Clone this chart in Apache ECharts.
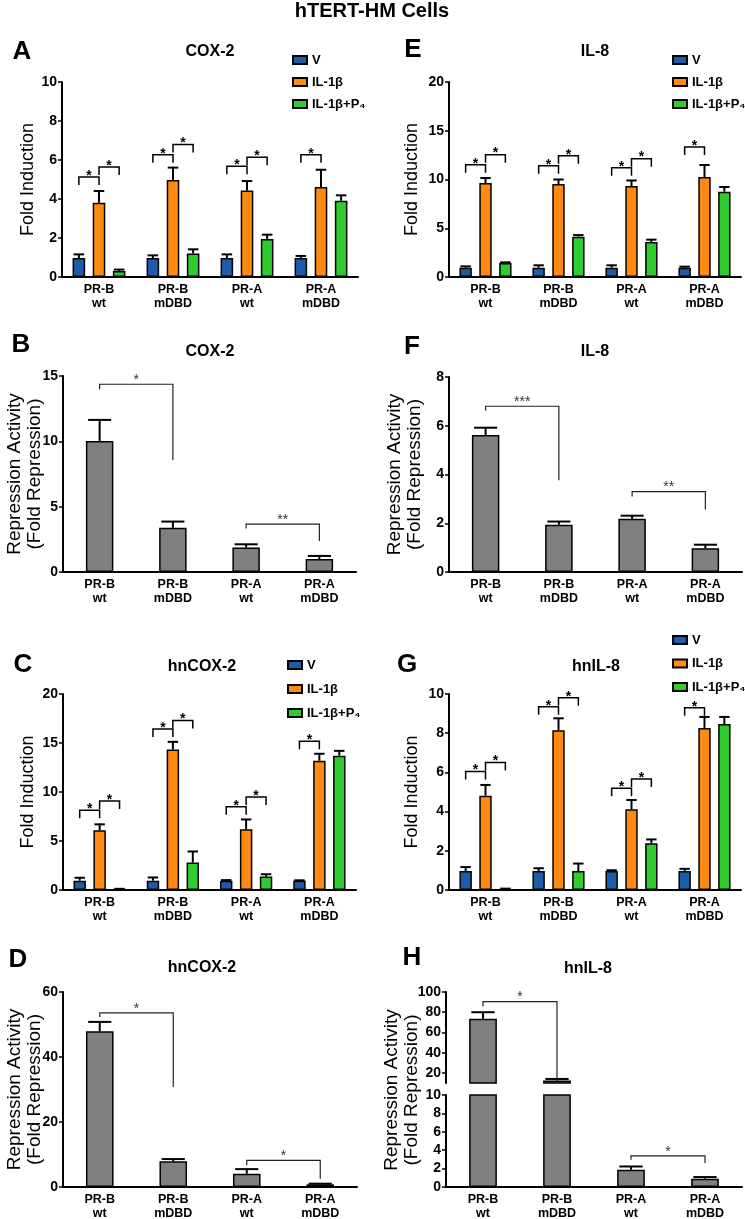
<!DOCTYPE html>
<html><head><meta charset="utf-8">
<script src="https://cdn.jsdelivr.net/npm/echarts@6/dist/echarts.min.js"></script>
<style>html,body{margin:0;padding:0;background:#fff}#c{width:745px;height:1219px}</style>
</head><body><div id="c"></div><script>
// ---------- data ----------
const categories = ['PR-B\nwt', 'PR-B\nmDBD', 'PR-A\nwt', 'PR-A\nmDBD'];
const treatments = ['V', 'IL-1β', 'IL-1β+P₄'];

// A: COX-2 fold induction (mean, SEM)
const coxV = [0.97, 0.97, 0.97, 0.97];   const coxVSem = [0.19, 0.14, 0.19, 0.11];
const coxIL = [3.81, 4.97, 4.44, 4.62];  const coxILSem = [0.60, 0.64, 0.48, 0.88];
const coxP4 = [0.31, 1.21, 1.95, 3.91];  const coxP4Sem = [0.07, 0.21, 0.22, 0.28];
const coxSig = [[0,0,1,5.13,'*'],[0,1,2,5.64,'*'],[1,0,1,6.27,'*'],[1,1,2,6.79,'*'],[2,0,1,5.68,'*'],[2,1,2,6.14,'*'],[3,0,1,6.27,'*']];

// E: IL-8 fold induction
const il8V = [0.96, 0.96, 0.96, 0.96];   const il8VSem = [0.13, 0.24, 0.24, 0.10];
const il8IL = [9.64, 9.54, 9.33, 10.26]; const il8ILSem = [0.51, 0.46, 0.57, 1.23];
const il8P4 = [1.44, 4.14, 3.59, 8.75];  const il8P4Sem = [0.06, 0.16, 0.24, 0.48];
const il8Sig = [[0,0,1,11.52,'*'],[0,1,2,12.55,'*'],[1,0,1,11.42,'*'],[1,1,2,12.44,'*'],[2,0,1,11.21,'*'],[2,1,2,12.14,'*'],[3,0,1,13.33,'*']];

// B: COX-2 repression
const coxRep = [10.03, 3.38, 1.87, 1.0]; const coxRepSem = [1.61, 0.48, 0.25, 0.23];
const coxRepSig = [[0,1,14.37,13.99,8.57,'*'],[2,3,3.66,3.32,2.38,'**']];

// F: IL-8 repression
const il8Rep = [5.62, 1.94, 2.18, 0.97]; const il8RepSem = [0.30, 0.13, 0.13, 0.15];
const il8RepSig = [[0,1,6.80,6.63,3.76,'***'],[2,3,3.30,3.10,2.56,'**']];

// C: hnCOX-2 fold induction
const hnCoxV = [0.95, 0.95, 0.95, 0.95];  const hnCoxVSem = [0.30, 0.33, 0.06, 0.04];
const hnCoxIL = [6.1, 14.34, 6.2, 13.2];  const hnCoxILSem = [0.60, 0.78, 1.0, 0.7];
const hnCoxP4 = [0.08, 2.8, 1.37, 13.7];  const hnCoxP4Sem = [0.04, 1.13, 0.24, 0.5];
const hnCoxSig = [[0,0,1,8.14,'*'],[0,1,2,9.08,'*'],[1,0,1,16.44,'*'],[1,1,2,17.3,'*'],[2,0,1,8.5,'*'],[2,1,2,9.49,'*'],[3,0,1,15.19,'*']];

// G: hnIL-8 fold induction
const hnIl8V = [0.97, 0.97, 0.97, 0.97];  const hnIl8VSem = [0.20, 0.14, 0.04, 0.11];
const hnIl8IL = [4.81, 8.15, 4.12, 8.27]; const hnIl8ILSem = [0.55, 0.61, 0.47, 0.56];
const hnIl8P4 = [0.05, 0.97, 2.39, 8.47]; const hnIl8P4Sem = [0.02, 0.38, 0.19, 0.36];
const hnIl8Sig = [[0,0,1,6.04,'*'],[0,1,2,6.51,'*'],[1,0,1,9.35,'*'],[1,1,2,9.81,'*'],[2,0,1,5.19,'*'],[2,1,2,5.66,'*'],[3,0,1,9.3,'*']];

// D: hnCOX-2 repression
const hnCoxRep = [47.9, 7.9, 4.1, 0.82]; const hnCoxRepSem = [2.9, 0.7, 1.4, 0.2];
const hnCoxRepSig = [[0,1,53.6,52.3,30.8,'*'],[2,3,8.2,6.7,2.56,'*']];

// H: hnIL-8 repression (broken axis)
const hnIl8Rep = [73.5, 12.5, 1.87, 0.9]; const hnIl8RepSem = [6.5, 1.5, 0.36, 0.18];
const hnIl8RepSigUpper = [[0,1,90.5,85.6,15,'*']];
const hnIl8RepSigLower = [[2,3,3.39,2.96,2.6,'*']];
const hUpperTicks = [20, 40, 60, 80, 100];

// ---------- helpers ----------
const FONT = '"Liberation Sans", Arial, Helvetica, sans-serif';
const COLORS = ['#1D5CA8', '#FF8A12', '#2FCB2F'];
const GRAY = '#808080';
const GROUP_BW = 0.17, GROUP_GAP = 0.6, SINGLE_BW = 0.375;
const grids = [], xAxes = [], yAxes = [], series = [], legends = [], graphics = [];

function addAxes(box, yc, xShow) {
  const gi = grids.length;
  grids.push(Object.assign({containLabel: false, outerBoundsMode: 'none'}, box));
  xAxes.push({type: 'category', gridIndex: gi, data: categories, show: xShow !== false,
    axisLine: {onZero: false, lineStyle: {color: '#000', width: 2}},
    axisTick: {alignWithLabel: true, length: 4, lineStyle: {color: '#000', width: 1.5}},
    axisLabel: {interval: 0, fontFamily: FONT, fontSize: 12.5, fontWeight: 'bold', color: '#000', lineHeight: 13.5, margin: 6},
    splitLine: {show: false}});
  const y = {type: 'value', gridIndex: gi, min: yc.min, max: yc.max,
    axisLine: {show: true, lineStyle: {color: '#000', width: 2}},
    axisTick: {show: true, length: 4, lineStyle: {color: '#000', width: 1.5}},
    axisLabel: {fontFamily: FONT, fontSize: 14, fontWeight: 'bold', color: '#000', margin: 5},
    splitLine: {show: false}};
  if (yc.interval) y.interval = yc.interval;
  if (yc.custom) { y.axisLabel.customValues = yc.custom; y.axisTick.customValues = yc.custom; }
  if (yc.name) {
    y.name = yc.name; y.nameLocation = 'middle'; y.nameGap = yc.nameGap; y.nameMoveOverlap = false;
    y.nameTextStyle = {fontFamily: FONT, fontSize: yc.nameSize, lineHeight: yc.nameLH, color: '#000', padding: yc.namePad || 0};
  }
  yAxes.push(y);
  return gi;
}

function barSeries(gi, name, data, color, bw, gap) {
  const s = {type: 'bar', name: name, xAxisIndex: gi, yAxisIndex: gi, data: data, barWidth: bw,
    itemStyle: {color: color, borderColor: '#000', borderWidth: 1.5}, emphasis: {disabled: true},
    animation: false, clip: true, z: 2};
  if (gap) s.barGap = gap;
  return s;
}

function errSeries(gi, rows, grouped) {
  return {type: 'custom', xAxisIndex: gi, yAxisIndex: gi, data: rows, encode: {x: 0, y: 2}, z: 3, silent: true, animation: false,
    renderItem: function (params, api) {
      const c = api.value(0), s = api.value(1), m = api.value(2), e = api.value(3);
      const band = api.size([1, 0])[0];
      const bw = band * (grouped ? GROUP_BW : SINGLE_BW);
      const off = grouped ? (s - 1) * bw * (1 + GROUP_GAP) : 0;
      const p0 = api.coord([c, m]), p1 = api.coord([c, m + e]);
      const x = p0[0] + off, hw = bw * 0.42;
      return {type: 'group', children: [
        {type: 'line', shape: {x1: x, y1: p0[1], x2: x, y2: p1[1]}, style: {stroke: '#000', lineWidth: 2}},
        {type: 'line', shape: {x1: x - hw, y1: p1[1], x2: x + hw, y2: p1[1]}, style: {stroke: '#000', lineWidth: 2}}
      ]};
    }};
}

function groupSigSeries(gi, sig) {
  return {type: 'custom', xAxisIndex: gi, yAxisIndex: gi, data: sig.map(r => r.slice(0, 4)), encode: {x: 0, y: 3},
    z: 4, silent: true, animation: false,
    renderItem: function (params, api) {
      const c = api.value(0), s1 = api.value(1), s2 = api.value(2), h = api.value(3);
      const band = api.size([1, 0])[0];
      const sp = band * GROUP_BW * (1 + GROUP_GAP);
      const p = api.coord([c, h]);
      const x1 = p[0] + (s1 - 1) * sp, x2 = p[0] + (s2 - 1) * sp, y = p[1], d = 8;
      return {type: 'group', children: [
        {type: 'polyline', shape: {points: [[x1, y + d], [x1, y], [x2, y], [x2, y + d]]}, style: {stroke: '#000', lineWidth: 1.5, fill: null}},
        {type: 'text', x: (x1 + x2) / 2, y: y - 1, style: {text: sig[params.dataIndex][4], align: 'center', verticalAlign: 'middle',
          fontFamily: FONT, fontSize: 14, fontWeight: 'bold', fill: '#000'}}
      ]};
    }};
}

function singleSigSeries(gi, sig) {
  return {type: 'custom', xAxisIndex: gi, yAxisIndex: gi, data: sig.map(r => r.slice(0, 5)), encode: {x: 0, y: 2},
    z: 4, silent: true, animation: false,
    renderItem: function (params, api) {
      const c1 = api.value(0), c2 = api.value(1), h = api.value(2), dl = api.value(3), dr = api.value(4);
      const a = api.coord([c1, h]), b = api.coord([c2, h]);
      const yl = api.coord([c1, dl])[1], yr = api.coord([c2, dr])[1];
      return {type: 'group', children: [
        {type: 'polyline', shape: {points: [[a[0], yl], [a[0], a[1]], [b[0], b[1]], [b[0], yr]]}, style: {stroke: '#222', lineWidth: 1.2, fill: null}},
        {type: 'text', x: (a[0] + b[0]) / 2, y: a[1] - 4, style: {text: sig[params.dataIndex][5], align: 'center', verticalAlign: 'middle',
          fontFamily: FONT, fontSize: 14, fill: '#333'}}
      ]};
    }};
}

function groupedPanel(box, yc, means, sems, sig, legendPos) {
  const gi = addAxes(box, yc);
  means.forEach((m, s) => series.push(barSeries(gi, treatments[s], m, COLORS[s], (GROUP_BW * 100) + '%', (GROUP_GAP * 100) + '%')));
  const rows = [];
  means.forEach((m, s) => m.forEach((v, c) => rows.push([c, s, v, sems[s][c]])));
  series.push(errSeries(gi, rows, true));
  series.push(groupSigSeries(gi, sig));
  legends.push({orient: 'vertical', left: legendPos.left, top: legendPos.top, itemGap: legendPos.gap, padding: 0,
    itemWidth: 14, itemHeight: 8, icon: 'rect', selectedMode: false, data: treatments,
    textStyle: {fontFamily: FONT, fontSize: 13, fontWeight: 'bold', color: '#000', lineHeight: 14}});
}

function singlePanel(box, yc, mean, sem, sig, xShow, rowFilter) {
  const gi = addAxes(box, yc, xShow);
  series.push(barSeries(gi, 'rep' + gi, mean, GRAY, (SINGLE_BW * 100) + '%'));
  const rows = mean.map((v, c) => [c, 0, v, sem[c]]).filter((r, c) => !rowFilter || rowFilter(c));
  series.push(errSeries(gi, rows, false));
  if (sig) series.push(singleSigSeries(gi, sig));
  return gi;
}

// ---------- panels ----------
const nameFI = {nameSize: 18, nameLH: 18};
const REP = 'Repression Activity\n(Fold Repression)';
groupedPanel({left: 62, top: 82, width: 296, height: 195},
  Object.assign({min: 0, max: 10, interval: 2, name: 'Fold Induction', nameGap: 25}, nameFI),
  [coxV, coxIL, coxP4], [coxVSem, coxILSem, coxP4Sem], coxSig, {left: 292, top: 53, gap: 8});
groupedPanel({left: 449, top: 82, width: 292, height: 195},
  Object.assign({min: 0, max: 20, interval: 5, name: 'Fold Induction', nameGap: 28}, nameFI),
  [il8V, il8IL, il8P4], [il8VSem, il8ILSem, il8P4Sem], il8Sig, {left: 672, top: 53, gap: 8});
singlePanel({left: 63, top: 376, width: 293, height: 196},
  {min: 0, max: 15, interval: 5, name: REP, nameGap: 18, nameSize: 19, nameLH: 20},
  coxRep, coxRepSem, coxRepSig);
singlePanel({left: 449, top: 377, width: 293, height: 195},
  {min: 0, max: 8, interval: 2, name: REP, nameGap: 24, nameSize: 19, nameLH: 20},
  il8Rep, il8RepSem, il8RepSig);
groupedPanel({left: 63, top: 694, width: 293, height: 196},
  Object.assign({min: 0, max: 20, interval: 5, name: 'Fold Induction', nameGap: 26}, nameFI),
  [hnCoxV, hnCoxIL, hnCoxP4], [hnCoxVSem, hnCoxILSem, hnCoxP4Sem], hnCoxSig, {left: 287, top: 658, gap: 10});
groupedPanel({left: 449, top: 694, width: 292, height: 196},
  Object.assign({min: 0, max: 10, interval: 2, name: 'Fold Induction', nameGap: 28}, nameFI),
  [hnIl8V, hnIl8IL, hnIl8P4], [hnIl8VSem, hnIl8ILSem, hnIl8P4Sem], hnIl8Sig, {left: 672, top: 633, gap: 9.5});
singlePanel({left: 63, top: 992, width: 294, height: 195},
  {min: 0, max: 60, interval: 20, name: REP, nameGap: 18, nameSize: 19, nameLH: 20},
  hnCoxRep, hnCoxRepSem, hnCoxRepSig);
// H: broken axis -> upper and lower grids
singlePanel({left: 446, top: 992, width: 296, height: 91},
  {min: 10, max: 100, custom: hUpperTicks},
  hnIl8Rep, hnIl8RepSem, hnIl8RepSigUpper, false, c => c < 2);
singlePanel({left: 446, top: 1095, width: 296, height: 92},
  {min: 0, max: 10, interval: 2, name: REP, nameGap: 24, nameSize: 19, nameLH: 20, namePad: [0, 0, 0, 102]},
  hnIl8Rep, hnIl8RepSem, hnIl8RepSigLower, true, c => c >= 2);

// ---------- text annotations ----------
function txt(text, x, y, size, weight) {
  graphics.push({type: 'text', x: x, y: y, silent: true, style: {text: text, align: 'center', verticalAlign: 'middle',
    fontFamily: FONT, fontSize: size, fontWeight: weight || 'bold', fill: '#000'}});
}
txt('hTERT-HM Cells', 372, 11, 20);
[['A', 22, 52], ['E', 413, 50], ['B', 21, 345], ['F', 412, 347], ['C', 23, 665], ['G', 407, 665], ['D', 18, 960], ['H', 412, 958]]
  .forEach(r => txt(r[0], r[1], r[2], 26));
[['COX-2', 210, 52], ['IL-8', 595, 52], ['COX-2', 210, 352], ['IL-8', 595, 352], ['hnCOX-2', 202, 667], ['hnIL-8', 596, 667], ['hnCOX-2', 202, 968], ['hnIL-8', 588, 969]]
  .forEach(r => txt(r[0], r[1], r[2], 16));

const chart = echarts.init(document.getElementById('c'), null, {renderer: 'canvas', width: 745, height: 1219});
chart.setOption({
  animation: false, backgroundColor: '#fff',
  grid: grids, xAxis: xAxes, yAxis: yAxes, series: series, legend: legends, graphic: graphics,
  tooltip: {show: false}
});
</script></body></html>
